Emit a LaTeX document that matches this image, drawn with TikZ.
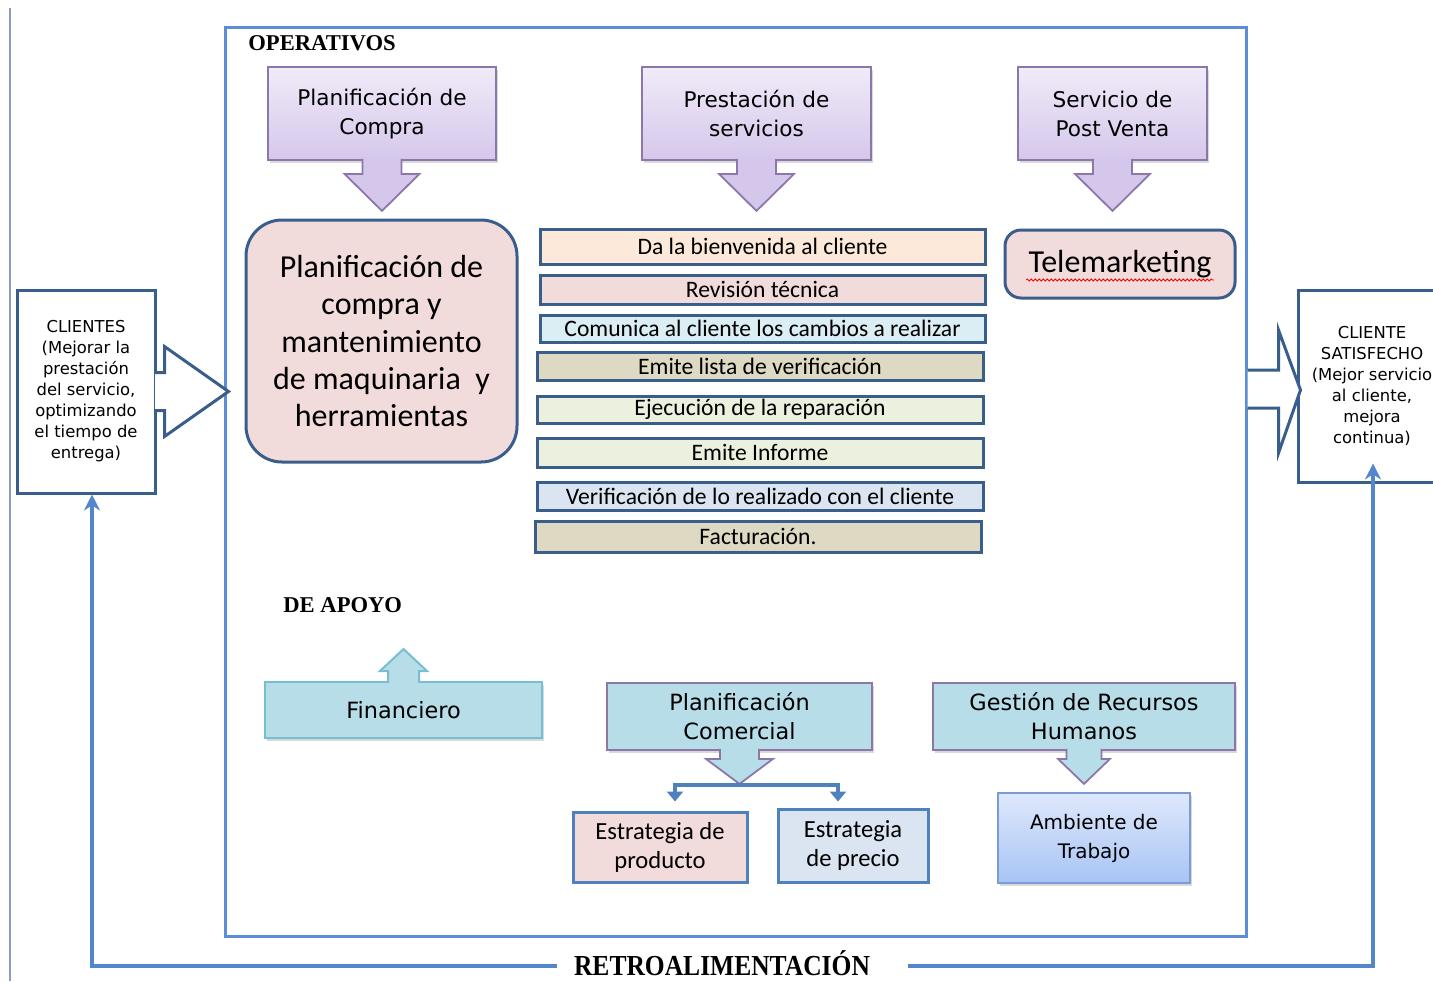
\documentclass[tikz,border=0pt]{standalone}
\usepackage{fontspec}
\setmainfont{Liberation Serif}
\newfontfamily\tahfont{DejaVu Sans}
\newfontfamily\calfont{Carlito}
\usetikzlibrary{arrows.meta, calc, shadows, decorations.pathmorphing}

\definecolor{pagegray}{RGB}{140,155,190}
\definecolor{frameblue}{RGB}{91,142,214}
\definecolor{darkedge}{RGB}{58,94,140}
\definecolor{purpedge}{RGB}{140,118,170}
\definecolor{purptop}{RGB}{240,235,248}
\definecolor{purpbot}{RGB}{213,199,235}
\definecolor{tealfill}{RGB}{183,221,232}
\definecolor{tealedge}{RGB}{120,190,210}
\definecolor{rosefill}{RGB}{242,220,219}
\definecolor{peachfill}{RGB}{253,233,217}
\definecolor{iceblue}{RGB}{218,238,243}
\definecolor{khaki}{RGB}{221,217,195}
\definecolor{palegreen}{RGB}{235,241,222}
\definecolor{paleblue}{RGB}{219,229,241}
\definecolor{accblue}{RGB}{79,129,189}
\definecolor{fbblue}{RGB}{84,134,204}
\definecolor{ambtop}{RGB}{222,232,251}
\definecolor{ambbot}{RGB}{168,196,245}
\definecolor{ambedge}{RGB}{122,155,214}

\begin{document}
\begin{tikzpicture}[x=0.5pt, y=-0.5pt,
  boxshadow/.style={drop shadow={opacity=0.3, shadow xshift=1.2pt, shadow yshift=-1.5pt}},
  purpbox/.style={draw=purpedge, line width=0.9pt, top color=purptop, bottom color=purpbot,
    inner sep=0pt, align=center, font=\tahfont\fontsize{10.8}{14.5}\selectfont, boxshadow},
  barbox/.style={draw=darkedge, line width=1.5pt, inner sep=0pt,
    font=\calfont\fontsize{11.8}{14}\selectfont},
  clibox/.style={draw=darkedge, line width=1.5pt, fill=white, inner sep=0pt, align=center,
    font=\tahfont\fontsize{8.2}{10.5}\selectfont},
  tealbox/.style={fill=tealfill, inner sep=0pt, align=center,
    font=\tahfont\fontsize{11.2}{14.5}\selectfont, boxshadow},
  estrbox/.style={draw=accblue, line width=1.5pt, inner sep=0pt, align=center,
    font=\calfont\fontsize{12.3}{14.5}\selectfont},
  heading/.style={anchor=west, inner sep=0pt, font=\bfseries\fontsize{11.3}{13}\selectfont},
  bigarrow/.style={draw=darkedge, fill=white, line width=1.5pt, line join=miter},
  purparrow/.style={draw=purpedge, fill=purpbot, line width=0.9pt},
  tealarrow/.style={draw=purpedge, fill=tealfill, line width=0.9pt},
  fb/.style={draw=fbblue, line width=2pt, -{Stealth[length=8pt, width=8pt]}},
  conn/.style={draw=accblue, line width=2pt}]

  \useasboundingbox (0,0) rectangle (1433,981);
  \clip (0,0) rectangle (1433,981);

  \draw[pagegray, line width=0.8pt] (10,8) -- (10,981);

  % procesos operativos
  \node[draw=frameblue, line width=1.5pt, minimum width=510.5pt, minimum height=454.5pt,
    inner sep=0pt] (oper) at (735.5,481.5) {};
  \node[heading] (optit) at (248,43) {OPERATIVOS};

  \node[purpbox, minimum width=114pt, minimum height=46.5pt] (pcom) at (382,113.5)
    {Planificación de\\Compra};
  \node[purpbox, minimum width=114.5pt, minimum height=46.5pt] (pserv) at (756.5,113.5)
    {Prestación de\\servicios};
  \node[purpbox, minimum width=94.5pt, minimum height=46.5pt] (psv) at (1112.5,113.5)
    {Servicio de\\Post Venta};
  \foreach \b in {pcom, pserv, psv}
    \filldraw[purparrow] ($(\b.south)+(-19.5,-2)$) -- ++(0,15) -- ++(-18,0)
      -- ($(\b.south)+(0,50)$) -- ($(\b.south)+(37.5,13)$) -- ++(-18,0) -- ++(0,-15);

  \node[draw=darkedge, line width=1.5pt, fill=rosefill, rounded corners=18pt,
    minimum width=135.5pt, minimum height=121pt, align=center,
    font=\calfont\fontsize{16}{18.6}\selectfont] (pmaq) at (381.5,341)
    {Planificación de\\compra y\\mantenimiento\\de maquinaria\ \ y\\herramientas};

  \node[barbox, fill=peachfill, minimum width=222.5pt, minimum height=17.5pt] (b1) at (762.5,246.5) {Da la bienvenida al cliente};
  \node[barbox, fill=rosefill, minimum width=222.5pt, minimum height=14.5pt] (b2) at (762.5,289.5) {Revisión técnica};
  \node[barbox, fill=iceblue, minimum width=222.5pt, minimum height=13.5pt] (b3) at (762.5,328.5) {Comunica al cliente los cambios a realizar};
  \node[barbox, fill=khaki, minimum width=223pt, minimum height=14pt] (b4) at (760,366) {Emite lista de verificación};
  \node[barbox, fill=palegreen, minimum width=223pt, minimum height=13.5pt] (b5) at (760,409.5) {Ejecución de la reparación};
  \node[barbox, fill=palegreen, minimum width=223pt, minimum height=14.5pt] (b6) at (760,452.5) {Emite Informe};
  \node[barbox, fill=paleblue, minimum width=223pt, minimum height=14pt] (b7) at (760,496) {Verificación de lo realizado con el cliente};
  \node[barbox, fill=khaki, minimum width=223pt, minimum height=15.5pt] (b8) at (758,536.5) {Facturación.};

  \node[draw=darkedge, line width=1.5pt, fill=rosefill, rounded corners=8pt,
    minimum width=115pt, minimum height=34pt, inner sep=0pt,
    font=\calfont\fontsize{16}{18}\selectfont] (tmk) at (1120,264) {Telemarketing};
  \draw[red, line width=0.4pt, decorate, decoration={snake, amplitude=0.5pt, segment length=2pt}]
    ($(tmk.center)+(-94,16)$) -- ($(tmk.center)+(94,16)$);

  % clientes
  \node[clibox, minimum width=69pt, minimum height=101.5pt] (cli) at (86,391.5)
    {CLIENTES\\(Mejorar la\\prestación\\del servicio,\\optimizando\\el tiempo de\\entrega)};
  \node[clibox, minimum width=74pt, minimum height=96pt] (cls) at (1372,386)
    {CLIENTE\\SATISFECHO\\(Mejor servicio\\al cliente,\\mejora\\continua)};
  \filldraw[bigarrow] ($(cli.east)+(-1.5,-19)$) -- ++(9.5,0) -- ++(0,-26)
    -- ($(oper.west |- cli.east)+(5,0)$) -- ($(cli.east)+(8,45)$) -- ++(0,-26) -- ++(-9.5,0);
  \filldraw[bigarrow] ($(oper.east |- cls.west)+(0,-16)$) -- ++(31,0) -- ++(0,-40)
    -- ($(cls.west)+(4,4)$) -- ($(oper.east |- cls.west)+(31,67)$) -- ++(0,-45) -- ++(-31,0);

  % de apoyo
  \node[heading] (aptit) at (283,605) {DE APOYO};

  \node[tealbox, draw=tealedge, line width=1pt, minimum width=138.5pt, minimum height=28pt]
    (fin) at (403.5,710) {Financiero};
  \filldraw[tealarrow, draw=tealedge, line width=1pt] ($(fin.north)+(-15.5,2)$) -- ++(0,-12) -- ++(-8,0)
    -- ($(fin.north)+(0,-32)$) -- ($(fin.north)+(23.5,-10)$) -- ++(-8,0) -- ++(0,12);

  \node[tealbox, draw=purpedge, line width=0.9pt, minimum width=132.5pt, minimum height=33.5pt]
    (pcomr) at (739.5,716.5) {Planificación\\Comercial};
  \filldraw[tealarrow] ($(pcomr.south)+(-19.5,-2)$) -- ++(0,10) -- ++(-14,0)
    -- ($(pcomr.south)+(0,33)$) -- ($(pcomr.south)+(33.5,8)$) -- ++(-14,0) -- ++(0,-10);

  \node[tealbox, draw=purpedge, line width=0.9pt, minimum width=151pt, minimum height=33.5pt]
    (grh) at (1084,716.5) {Gestión de Recursos\\Humanos};
  \filldraw[tealarrow] ($(grh.south)+(-17.5,-2)$) -- ++(0,10) -- ++(-8.5,0)
    -- ($(grh.south)+(0,33)$) -- ($(grh.south)+(26,8)$) -- ++(-8.5,0) -- ++(0,-10);

  \node[estrbox, fill=rosefill, minimum width=87pt, minimum height=35pt] (epro) at (660,847)
    {Estrategia de\\producto};
  \node[estrbox, fill=paleblue, minimum width=75pt, minimum height=36.5pt] (epre) at (853,845.5)
    {Estrategia\\de precio};
  \coordinate (brL) at (675,785);
  \coordinate (brR) at (838,785);
  \draw[conn, {Triangle[length=5pt, width=8pt]}-{Triangle[length=5pt, width=8pt]}]
    ($(brL |- epro.north)+(0,-9)$) -- (brL) -- (brR) -- ($(brR |- epre.north)+(0,-6)$);

  \node[draw=ambedge, line width=1pt, top color=ambtop, bottom color=ambbot, boxshadow,
    minimum width=96pt, minimum height=45pt, inner sep=0pt, align=center,
    font=\tahfont\fontsize{10}{14.5}\selectfont] (amb) at (1094,838) {Ambiente de\\Trabajo};

  % retroalimentacion
  \node[anchor=base, inner sep=0pt, font=\bfseries\fontsize{14.5}{15}\selectfont] (retro) at (722,975)
    {\scalebox{0.88}[1]{RETROALIMENTACIÓN}};
  \coordinate (fbL) at (92,966);
  \coordinate (fbR) at (1373,966);
  \draw[fb] ([xshift=-8.5pt]retro.west |- fbL) -- (fbL) -- (fbL |- cli.south);
  \draw[fb, shorten >=-10pt] ([xshift=19pt]retro.east |- fbR) -- (fbR) -- (fbR |- cls.south);
\end{tikzpicture}
\end{document}
